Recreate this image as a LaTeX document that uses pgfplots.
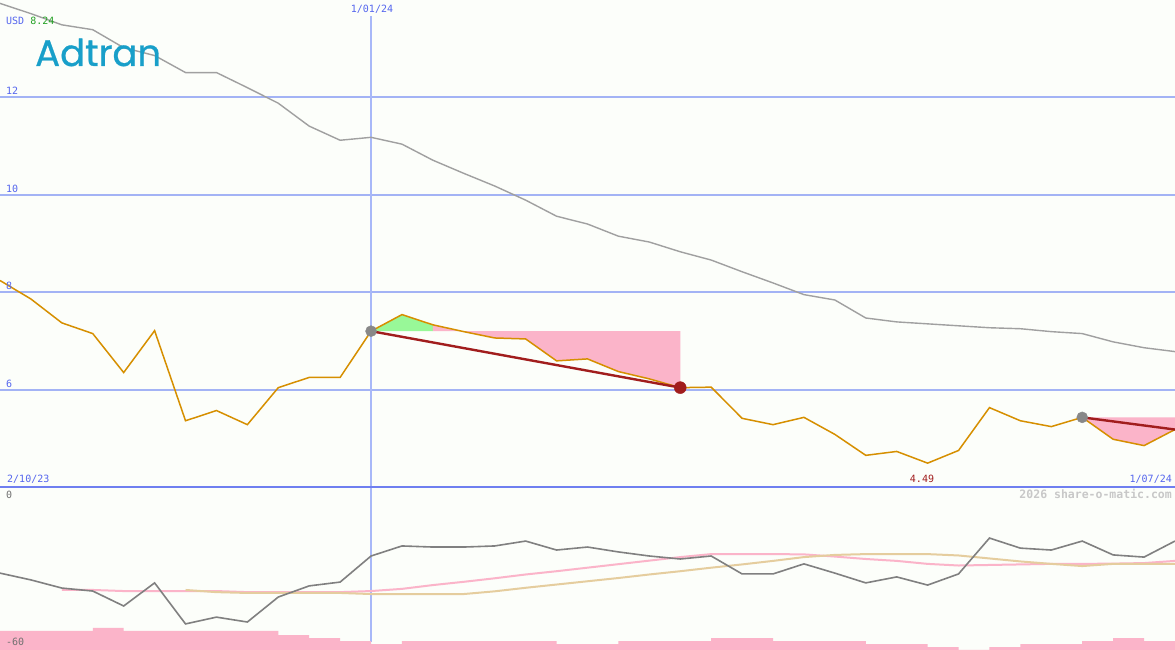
\documentclass[border=0pt]{standalone}
\usepackage{fontspec}
\setmonofont{DejaVu Sans Mono}
\newfontfamily\logofont[FakeBold=0.8]{Poppins}
\usepackage{pgfplots}
\pgfplotsset{compat=1.18}
\definecolor{bgcol}{HTML}{FCFEFA}
\definecolor{gridblue}{HTML}{A3B3F5}
\definecolor{axisblue}{HTML}{6F7FF0}
\definecolor{vlinecol}{HTML}{A8B8F8}
\definecolor{labelblue}{HTML}{5566EE}
\definecolor{usdgreen}{HTML}{22A022}
\definecolor{pxorange}{HTML}{D68F00}
\definecolor{graytop}{HTML}{A0A0A0}
\definecolor{graybot}{HTML}{808080}
\definecolor{pinkfill}{HTML}{FBB4C9}
\definecolor{greenfill}{HTML}{98F898}
\definecolor{tanline}{HTML}{E5CD9E}
\definecolor{darkred}{HTML}{A11D1D}
\definecolor{dotgray}{HTML}{888888}
\definecolor{logoblue}{HTML}{189FC9}
\definecolor{wmgray}{HTML}{C8C8C8}
\definecolor{lblgray}{HTML}{707070}

\pgfplotstableread{
i price ma
0 8.24 13.93
1 7.86 13.72
2 7.37 13.49
3 7.15 13.39
4 6.35 13.02
5 7.21 12.86
6 5.36 12.51
7 5.57 12.51
8 5.28 12.20
9 6.04 11.88
10 6.25 11.41
11 6.25 11.12
12 7.20 11.18
13 7.54 11.04
14 7.33 10.71
15 7.19 10.44
16 7.06 10.18
17 7.04 9.89
18 6.59 9.56
19 6.63 9.40
20 6.37 9.15
21 6.22 9.03
22 6.04 8.83
23 6.05 8.66
24 5.41 8.42
25 5.28 8.19
26 5.43 7.95
27 5.08 7.84
28 4.65 7.47
29 4.73 7.39
30 4.49 7.35
31 4.75 7.31
32 5.63 7.27
33 5.36 7.25
34 5.24 7.19
35 5.43 7.15
36 4.98 6.98
37 4.85 6.86
38 5.18 6.78
}\toptable

\pgfplotstableread{
i osc
0 -31.7
1 -34.2
2 -37.2
3 -38.3
4 -43.8
5 -35.3
6 -50.4
7 -47.9
8 -49.7
9 -40.5
10 -36.4
11 -35.0
12 -25.4
13 -21.7
14 -22.1
15 -22.1
16 -21.7
17 -19.9
18 -23.2
19 -22.1
20 -23.9
21 -25.4
22 -26.5
23 -25.4
24 -32.0
25 -32.0
26 -28.3
27 -31.7
28 -35.3
29 -33.1
30 -36.1
31 -32.0
32 -18.8
33 -22.5
34 -23.2
35 -19.9
36 -25.0
37 -25.8
38 -19.9
}\osctable

\pgfplotstableread{
i pk
2 -37.9
3 -37.9
4 -38.3
5 -38.3
6 -38.3
7 -38.3
8 -38.7
9 -38.7
10 -38.7
11 -38.7
12 -38.3
13 -37.5
14 -36.1
15 -34.9
16 -33.6
17 -32.2
18 -31.0
19 -29.7
20 -28.4
21 -27.1
22 -25.8
23 -24.7
24 -24.7
25 -24.7
26 -24.8
27 -25.6
28 -26.5
29 -27.2
30 -28.3
31 -28.9
32 -28.7
33 -28.5
34 -28.3
35 -28.3
36 -28.2
37 -28.0
38 -27.2
}\pinktable

\pgfplotstableread{
i tn
6 -37.9
7 -38.7
8 -39.0
9 -39.0
10 -39.0
11 -39.0
12 -39.4
13 -39.4
14 -39.4
15 -39.4
16 -38.4
17 -37.1
18 -35.9
19 -34.7
20 -33.5
21 -32.2
22 -31.0
23 -29.7
24 -28.5
25 -27.2
26 -25.8
27 -25.0
28 -24.7
29 -24.7
30 -24.7
31 -25.2
32 -26.3
33 -27.4
34 -28.3
35 -29.1
36 -28.3
37 -28.3
38 -28.3
}\tantable

\begin{document}
\begin{tikzpicture}[font=\ttfamily\fontsize{10pt}{12pt}\selectfont]
\path[use as bounding box, fill=bgcol] (0,0) rectangle (1175pt,650pt);

% ---------- top panel ----------
\begin{axis}[
  at={(0pt,163pt)}, anchor=south west,
  width=1175pt, height=487pt, scale only axis,
  xmin=0, xmax=38, ymin=4, ymax=14,
  axis line style={draw=none}, tick style={draw=none},
  xtick=\empty, ytick=\empty,
  clip=false,
]
\addplot[gridblue, line width=2pt] coordinates {(0,12) (38,12)};
\addplot[gridblue, line width=2pt] coordinates {(0,10) (38,10)};
\addplot[gridblue, line width=2pt] coordinates {(0,8) (38,8)};
\addplot[gridblue, line width=2pt] coordinates {(0,6) (38,6)};
\addplot[vlinecol, line width=1.2pt] coordinates {(12,13.67) (12,0.82)};
\addplot[axisblue, line width=2pt] coordinates {(0,4) (38,4)};
% shaded areas
\addplot[fill=greenfill, draw=none] coordinates {(12,7.2) (13,7.54) (14,7.33) (14,7.2)};
\addplot[fill=pinkfill, draw=none] coordinates {(14,7.2) (14,7.33) (15,7.19) (16,7.06) (17,7.04) (18,6.59) (19,6.63) (20,6.37) (21,6.22) (22,6.04) (22,7.2)};
\addplot[fill=pinkfill, draw=none] coordinates {(35,5.43) (36,4.98) (37,4.85) (38,5.18) (38,5.43)};
% lines
\addplot[graytop, line width=1.4pt] table[x=i, y=ma] {\toptable};
\addplot[pxorange, line width=1.5pt] table[x=i, y=price] {\toptable};
\addplot[darkred, line width=2.4pt] coordinates {(12,7.2) (22,6.04)};
\addplot[darkred, line width=2.4pt] coordinates {(35,5.43) (38,5.18)};
\addplot[only marks, mark=*, mark size=5.5pt, mark options={fill=dotgray, draw=dotgray}] coordinates {(12,7.2) (35,5.43)};
\addplot[only marks, mark=*, mark size=6pt, mark options={fill=darkred, draw=darkred}] coordinates {(22,6.04)};
\end{axis}

% ---------- bottom panel ----------
\begin{axis}[
  at={(0pt,0pt)}, anchor=south west,
  width=1175pt, height=163pt, scale only axis,
  xmin=0, xmax=38, ymin=-60, ymax=0,
  axis line style={draw=none}, tick style={draw=none},
  xtick=\empty, ytick=\empty,
  clip=false,
]
\addplot[const plot, fill=pinkfill, draw=none] coordinates {
(0,-60) (0,-53.0) (1,-53.0) (2,-53.0) (3,-51.9) (4,-53.0) (5,-53.0) (6,-53.0) (7,-53.0) (8,-53.0)
(9,-54.5) (10,-55.6) (11,-56.7) (12,-57.8) (13,-56.7) (14,-56.7) (15,-56.7) (16,-56.7) (17,-56.7)
(18,-57.8) (19,-57.8) (20,-56.7) (21,-56.7) (22,-56.7) (23,-55.6) (24,-55.6) (25,-56.7) (26,-56.7)
(27,-56.7) (28,-57.8) (29,-57.8) (30,-58.9) (31,-60) (32,-58.9) (33,-57.8) (34,-57.8) (35,-56.7)
(36,-55.6) (37,-56.7) (38,-56.7) (38,-60)};
\addplot[pinkfill, line width=2pt] table[x=i, y=pk] {\pinktable};
\addplot[tanline, line width=2pt] table[x=i, y=tn] {\tantable};
\addplot[graybot, line width=1.6pt] table[x=i, y=osc] {\osctable};
\end{axis}

% ---------- texts ----------
\node[anchor=base west, inner sep=0pt] at (6pt,625pt) {\textcolor{labelblue}{USD} \textcolor{usdgreen}{8.24}};
\node[anchor=base west, inner sep=0pt, text=labelblue] at (6pt,555pt) {12};
\node[anchor=base west, inner sep=0pt, text=labelblue] at (6pt,457pt) {10};
\node[anchor=base west, inner sep=0pt, text=labelblue] at (6pt,360pt) {8};
\node[anchor=base west, inner sep=0pt, text=labelblue] at (6pt,262pt) {6};
\node[anchor=base, inner sep=0pt, text=labelblue] at (372pt,637pt) {1/01/24};
\node[anchor=base west, inner sep=0pt, text=labelblue] at (7pt,167pt) {2/10/23};
\node[anchor=base, inner sep=0pt, text=darkred] at (922pt,167pt) {4.49};
\node[anchor=base east, inner sep=0pt, text=labelblue] at (1172pt,167pt) {1/07/24};
\node[anchor=base east, inner sep=0pt, text=wmgray, font=\ttfamily\bfseries\fontsize{11.5pt}{13pt}\selectfont] at (1172pt,151pt) {2026 share-o-matic.com};
\node[anchor=base west, inner sep=0pt, text=lblgray] at (6pt,151pt) {0};
\node[anchor=base west, inner sep=0pt, text=lblgray] at (6pt,4pt) {-60};
\node[anchor=base west, inner sep=0pt, text=logoblue, font=\logofont\fontsize{37pt}{40pt}\selectfont] at (35pt,584pt) {Adtran};
\end{tikzpicture}
\end{document}
